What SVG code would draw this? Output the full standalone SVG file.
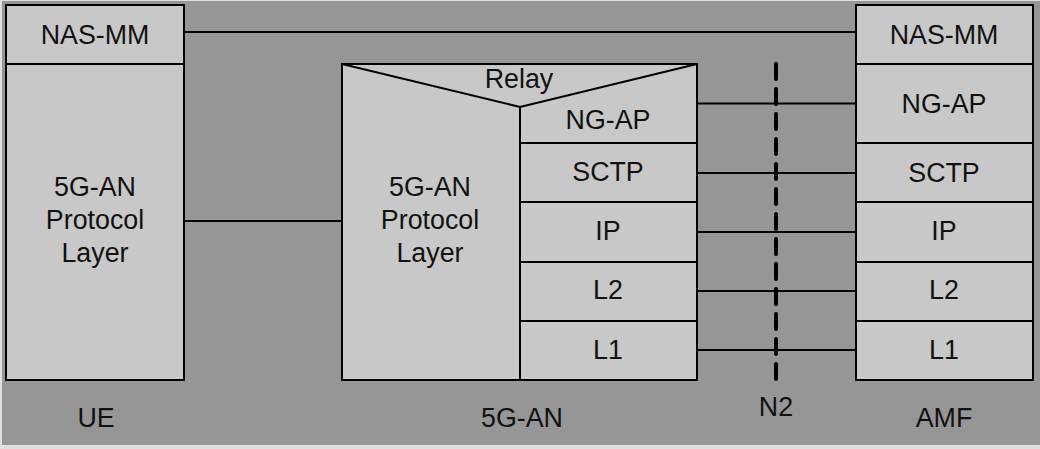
<svg xmlns="http://www.w3.org/2000/svg" width="1040" height="449" viewBox="0 0 1040 449">
<style>
.box{fill:#c8c8c8;stroke:#000;stroke-width:2}
.ln{fill:none;stroke:#000;stroke-width:2}
.dash{fill:none;stroke:#000;stroke-width:4;stroke-dasharray:15 10;stroke-linecap:round}
text{font-family:"Liberation Sans",Arial,sans-serif;font-size:26.8px;fill:#111;text-anchor:middle}
</style>
<rect x="0" y="0" width="1040" height="449" fill="#e0e0e0"/>
<rect x="2" y="1" width="1038" height="444" fill="#969696"/>
<g id="connectors">
<line class="ln" x1="184" y1="32" x2="856" y2="32"/>
<line class="ln" x1="184" y1="221" x2="342" y2="221"/>
<line class="ln" x1="697" y1="103.5" x2="856" y2="103.5"/>
<line class="ln" x1="697" y1="173" x2="856" y2="173"/>
<line class="ln" x1="697" y1="232" x2="856" y2="232"/>
<line class="ln" x1="697" y1="291" x2="856" y2="291"/>
<line class="ln" x1="697" y1="350" x2="856" y2="350"/>
<line class="dash" x1="776" y1="64" x2="776" y2="380"/>
</g>
<g id="ue">
<rect class="box" x="6" y="5" width="178" height="59"/>
<rect class="box" x="6" y="64" width="178" height="316"/>
<text x="95" y="44">NAS-MM</text>
<text x="95" y="196">5G-AN</text>
<text x="95" y="229">Protocol</text>
<text x="95" y="262">Layer</text>
<text x="96" y="427">UE</text>
</g>
<g id="gnb">
<rect class="box" x="342" y="64" width="355" height="316"/>
<polyline class="ln" points="342,64 520,107 697,64"/>
<line class="ln" x1="520" y1="107" x2="520" y2="380"/>
<line class="ln" x1="520" y1="143" x2="697" y2="143"/>
<line class="ln" x1="520" y1="202" x2="697" y2="202"/>
<line class="ln" x1="520" y1="262" x2="697" y2="262"/>
<line class="ln" x1="520" y1="321" x2="697" y2="321"/>
<text x="519" y="88">Relay</text>
<text x="430" y="196">5G-AN</text>
<text x="430" y="229">Protocol</text>
<text x="430" y="262">Layer</text>
<text x="608" y="129">NG-AP</text>
<text x="608" y="181">SCTP</text>
<text x="608" y="240">IP</text>
<text x="608" y="299">L2</text>
<text x="608" y="359">L1</text>
<text x="522" y="427">5G-AN</text>
</g>
<g id="amf">
<rect class="box" x="856" y="5" width="177" height="59"/>
<rect class="box" x="856" y="64" width="177" height="79"/>
<rect class="box" x="856" y="143" width="177" height="59"/>
<rect class="box" x="856" y="202" width="177" height="60"/>
<rect class="box" x="856" y="262" width="177" height="59"/>
<rect class="box" x="856" y="321" width="177" height="59"/>
<text x="944" y="44">NAS-MM</text>
<text x="944" y="113">NG-AP</text>
<text x="944" y="182">SCTP</text>
<text x="944" y="240">IP</text>
<text x="944" y="299">L2</text>
<text x="944" y="359">L1</text>
<text x="944" y="427">AMF</text>
</g>
<g id="n2">
<text x="776" y="416">N2</text>
</g>
</svg>
